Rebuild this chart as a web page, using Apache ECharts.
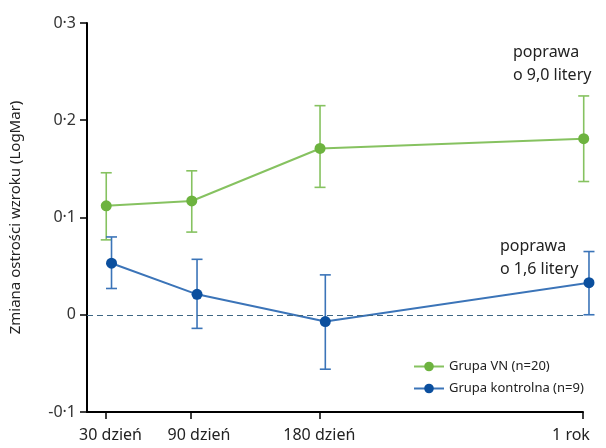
<!DOCTYPE html>
<html><head><meta charset="utf-8">
<script src="https://cdn.jsdelivr.net/npm/echarts@6/dist/echarts.min.js"></script>
<style>html,body{margin:0;padding:0;background:#fff}#c{width:606px;height:448px}</style>
</head><body><div id="c"></div>
<script>
// Visit days and their axis labels
const days = [30, 90, 180, 365];
const dayLabels = ['30 dzień', '90 dzień', '180 dzień', '1 rok'];
const yTicks = [-0.1, 0, 0.1, 0.2, 0.3];

// Mean change in visual acuity (LogMar) with error bar ends
const vnName = 'Grupa VN (n=20)';
const vnMean = [0.112, 0.117, 0.171, 0.181];
const vnLow = [0.077, 0.085, 0.131, 0.137];
const vnHigh = [0.146, 0.148, 0.215, 0.225];

const ctrlName = 'Grupa kontrolna (n=9)';
const ctrlMean = [0.053, 0.021, -0.007, 0.033];
const ctrlLow = [0.027, -0.014, -0.056, 0.000];
const ctrlHigh = [0.080, 0.057, 0.041, 0.065];

const vnNote = 'poprawa\no 9,0 litery';
const ctrlNote = 'poprawa\no 1,6 litery';

const FONT = 'Noto Sans';
const AXIS = '#000000';
const GREEN = '#6db33f', GREEN_LINE = '#86c260';
const BLUE = '#0b4f9e', BLUE_LINE = '#3b74b8';
// small horizontal dodge (in days) so the two groups do not overlap
const vnShift = 0.5, ctrlShift = 4.2;
// per-label horizontal nudge of the day labels: [left pad, right pad]
const labelPads = [[10, 0], [16, 0], [0, 0], [0, 24]];

function pts(mean, shift) { return days.map((d, i) => [d + shift, mean[i]]); }
function bars(low, high, shift) { return days.map((d, i) => [d + shift, low[i], high[i]]); }

function errorBar(color) {
  return function (params, api) {
    const x = api.value(0);
    const lo = api.coord([x, api.value(1)]);
    const hi = api.coord([x, api.value(2)]);
    const cap = 5.5;
    const st = { stroke: color, lineWidth: 1.6 };
    return {
      type: 'group',
      children: [
        { type: 'line', shape: { x1: lo[0], y1: lo[1], x2: hi[0], y2: hi[1] }, style: st },
        { type: 'line', shape: { x1: hi[0] - cap, y1: hi[1], x2: hi[0] + cap, y2: hi[1] }, style: st },
        { type: 'line', shape: { x1: lo[0] - cap, y1: lo[1], x2: lo[0] + cap, y2: lo[1] }, style: st }
      ]
    };
  };
}

const rich = {};
labelPads.forEach((p, i) => {
  rich['d' + i] = { fontSize: 16, color: '#222', fontFamily: FONT, padding: [0, p[1], 0, p[0]] };
});

const chart = echarts.init(document.getElementById('c'), null, { renderer: 'canvas' });
chart.setOption({
  backgroundColor: '#fff',
  animation: false,
  textStyle: { fontFamily: FONT },
  grid: { left: 83, right: 23, top: 23, bottom: 36 },
  xAxis: {
    type: 'value', min: 17, max: 365,
    axisLine: { show: true, onZero: false, lineStyle: { color: AXIS, width: 2, opacity: 1 } },
    axisTick: { show: true, customValues: days, length: 7, lineStyle: { color: AXIS, width: 1.5 } },
    axisLabel: {
      customValues: days, margin: 15, fontSize: 16, color: '#222', fontFamily: FONT, rich,
      formatter: v => {
        const i = days.indexOf(v);
        return i < 0 ? '' : '{d' + i + '|' + dayLabels[i] + '}';
      }
    },
    splitLine: { show: false }
  },
  yAxis: {
    type: 'value', min: yTicks[0], max: yTicks[yTicks.length - 1], interval: 0.1,
    name: 'Zmiana ostrości wzroku (LogMar)', nameLocation: 'middle', nameGap: 64,
    nameTextStyle: { fontSize: 15, color: '#222', fontFamily: FONT },
    axisLine: { show: true, onZero: false, lineStyle: { color: AXIS, width: 2, opacity: 1 } },
    axisTick: { show: true, length: 7, lineStyle: { color: AXIS, width: 1.5 } },
    axisLabel: {
      fontSize: 16, color: '#333', margin: 11, fontFamily: FONT,
      formatter: v => Math.abs(v) < 1e-9 ? '0' : v.toFixed(1).replace('.', '·')
    },
    splitLine: { show: false }
  },
  legend: {
    orient: 'vertical', left: 408, top: 355, itemWidth: 30, itemHeight: 12, itemGap: 9,
    textStyle: { fontSize: 13, color: '#222', fontFamily: FONT },
    data: [vnName, ctrlName]
  },
  series: [
    {
      type: 'custom', name: vnName + ' err', clip: false, z: 2,
      renderItem: errorBar(GREEN_LINE), data: bars(vnLow, vnHigh, vnShift),
      encode: { x: 0, y: [1, 2] }, silent: true
    },
    {
      type: 'custom', name: ctrlName + ' err', clip: false, z: 2,
      renderItem: errorBar(BLUE_LINE), data: bars(ctrlLow, ctrlHigh, ctrlShift),
      encode: { x: 0, y: [1, 2] }, silent: true
    },
    {
      type: 'line', name: vnName, data: pts(vnMean, vnShift), clip: false, z: 3,
      symbol: 'circle', symbolSize: 11,
      itemStyle: { color: GREEN }, lineStyle: { color: GREEN_LINE, width: 2 }
    },
    {
      type: 'line', name: ctrlName, data: pts(ctrlMean, ctrlShift), clip: false, z: 3,
      symbol: 'circle', symbolSize: 11,
      itemStyle: { color: BLUE }, lineStyle: { color: BLUE_LINE, width: 2 },
      markLine: {
        silent: true, symbol: 'none', label: { show: false },
        lineStyle: { type: [6, 4], color: '#3f6784', width: 1 },
        data: [{ yAxis: 0 }]
      }
    }
  ],
  graphic: [
    { type: 'text', left: 513, top: 41, style: { text: vnNote, fontSize: 16, lineHeight: 23, fill: '#222', fontFamily: FONT } },
    { type: 'text', left: 500, top: 235, style: { text: ctrlNote, fontSize: 16, lineHeight: 23, fill: '#222', fontFamily: FONT } }
  ]
});
</script>
</body></html>
